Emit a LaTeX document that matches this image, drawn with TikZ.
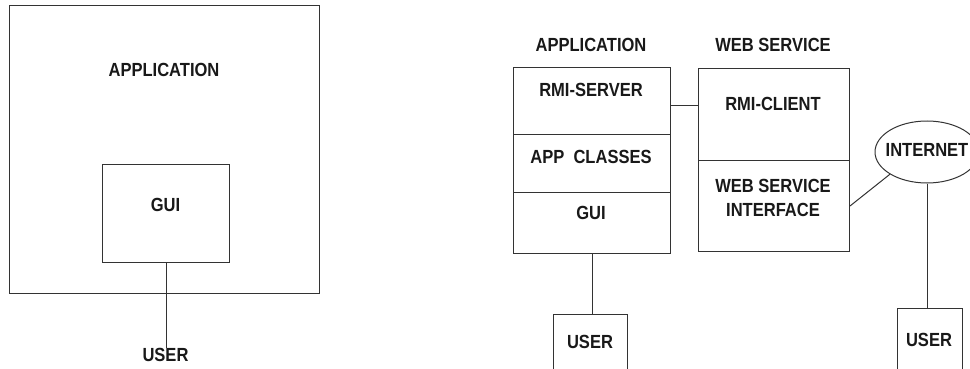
\documentclass[tikz,border=0pt]{standalone}
\usepackage{fontspec}
\newfontfamily\lblfont{Liberation Sans}[FakeStretch=0.87]
\usetikzlibrary{shapes.geometric}
\begin{document}
\begin{tikzpicture}[x=1pt,y=-1pt,
  lbl/.style={font=\lblfont\bfseries\fontsize{19}{21}\selectfont, text=black!90, inner sep=0pt, align=center},
  boxx/.style={draw=black!80, line width=1pt, inner sep=0pt, anchor=north west},
  wire/.style={draw=black!80, line width=1pt}]
\useasboundingbox (0,0) rectangle (970,369);
% left diagram
\node[boxx, minimum width=310pt, minimum height=288pt] (appL) at (9,5) {};
\node[lbl] (appLt) at (164,70) {APPLICATION};
\node[boxx, minimum width=127pt, minimum height=98pt] (guiL) at (102,164) {};
\node[lbl] (guiLt) at (165.5,205) {GUI};
\node[lbl] (userL) at (165.5,355) {USER};
\draw[wire] (guiL.south) -- (guiL.south |- userL.north);
% right diagram: application stack
\node[lbl] (appRt) at (591,45) {APPLICATION};
\node[boxx, minimum width=157pt, minimum height=67pt] (rmis) at (513,67) {};
\node[boxx, minimum width=157pt, minimum height=58pt] (appc) at (513,134) {};
\node[boxx, minimum width=157pt, minimum height=61pt] (gui2) at (513,192) {};
\node[lbl] (rmist) at (591,90) {RMI-SERVER};
\node[lbl] (appct) at (591,157) {APP\ \ CLASSES};
\node[lbl] (gui2t) at (591,213) {GUI};
% web service stack
\node[lbl] (wst) at (773,45) {WEB SERVICE};
\node[boxx, minimum width=151pt, minimum height=92pt] (rmic) at (698,68) {};
\node[boxx, minimum width=151pt, minimum height=91pt] (wsi) at (698,160) {};
\node[lbl] (rmict) at (773,104) {RMI-CLIENT};
\node[lbl, font=\lblfont\bfseries\fontsize{19}{24}\selectfont] (wsit) at (773,198) {WEB SERVICE\\INTERFACE};
\draw[wire] ([yshift=-4.5pt]rmis.east) -- ([yshift=-4.5pt]rmis.east -| rmic.west);
% internet
\node[ellipse, draw=black!80, line width=1pt, minimum width=104pt, minimum height=62pt, inner sep=0pt] (inet) at (927,152) {};
\node[lbl] (inett) at (927,150) {INTERNET};
\draw[wire] (wsi.east) -- (inet.south west);
% users
\node[boxx, minimum width=74pt, minimum height=70pt] (user2) at (553,314) {};
\node[lbl] (user2t) at (590,342) {USER};
\draw[wire] (gui2.south) -- (gui2.south |- user2.north);
\node[boxx, minimum width=65pt, minimum height=70pt] (user3) at (897,308) {};
\node[lbl] (user3t) at (929,340) {USER};
\draw[wire] (inet.south) -- (inet.south |- user3.north);
\end{tikzpicture}
\end{document}
